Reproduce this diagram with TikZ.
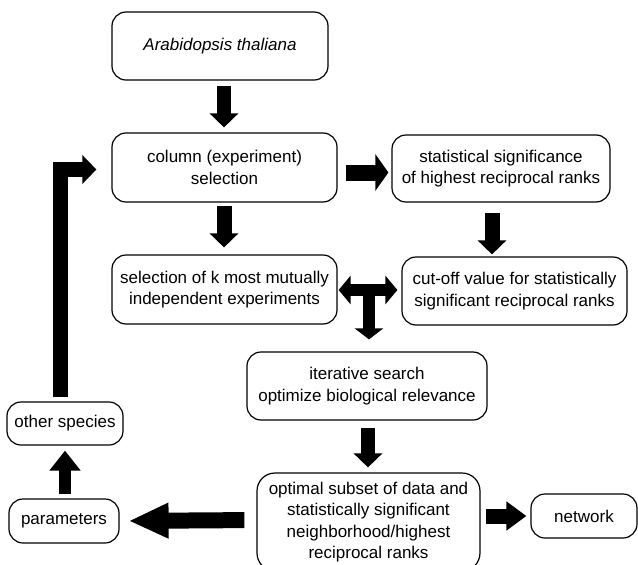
\documentclass[tikz,border=0pt]{standalone}
\usepackage{fontspec}
\setmainfont{Liberation Sans}
\usetikzlibrary{arrows.meta,calc}
\tikzset{
  box/.style={draw, line width=1.2pt, rounded corners=14pt, align=center, inner sep=0pt,
    font=\fontsize{17}{21.5}\selectfont},
  fat/.style={line width=#1, line join=miter},
  tipA/.style={-{Triangle[width=28pt,length=14pt]}},
}
\begin{document}
\begin{tikzpicture}[x=1pt,y=-1pt]
\useasboundingbox (0,0) rectangle (638,565);
\node[box, minimum width=216pt, minimum height=68pt] (A) at (220,46) {\itshape Arabidopsis thaliana};
\node[box, minimum width=225pt, minimum height=69pt] (B) at (224.5,167.5) {column (experiment)\\selection};
\node[box, minimum width=218pt, minimum height=67pt] (C) at (501,168.5) {statistical significance\\of highest reciprocal ranks};
\node[box, minimum width=225pt, minimum height=69pt] (D) at (224.5,289.5) {selection of k most mutually\\independent experiments};
\node[box, minimum width=225pt, minimum height=68pt] (E) at (514.5,291) {cut-off value for statistically\\significant reciprocal ranks};
\node[box, minimum width=240pt, minimum height=68pt] (F) at (367,386) {iterative search\\optimize biological relevance};
\node[box, minimum width=223pt, minimum height=98pt, rounded corners=18pt] (G) at (368.5,522) {optimal subset of data and\\statistically significant\\neighborhood/highest\\reciprocal ranks};
\node[box, minimum width=106pt, minimum height=44pt] (N) at (584,516) {network};
\node[box, minimum width=110pt, minimum height=44pt] (P) at (64,521) {parameters};
\node[box, minimum width=116pt, minimum height=43pt] (O) at (65,423.5) {other species};
\coordinate (ax) at (224,0);
\coordinate (cx) at (492,0);
\coordinate (tx) at (369,0);
\coordinate (ty) at (0,290);
\coordinate (lx) at (60,0);
\coordinate (fx) at (368,0);
% A -> B
\draw[fat=14pt, tipA, shorten <=5pt, shorten >=5pt] (A.south -| ax) -- (B.north -| ax);
% B -> C
\draw[fat=16pt, -{Triangle[width=36pt,length=13pt]}, shorten <=8pt, shorten >=3pt] ($(B.east)+(0,5)$) -- ($(C.west)+(0,4)$);
% B -> D
\draw[fat=15pt, tipA, shorten <=3pt, shorten >=7pt] (B.south -| ax) -- (D.north -| ax);
% C -> E
\draw[fat=15pt, tipA, shorten <=10pt, shorten >=2pt] (C.south -| cx) -- (E.north -| cx);
% D <-> E and down to F
\draw[fat=12pt, {Triangle[width=28pt,length=12pt]}-{Triangle[width=28pt,length=12pt]}, shorten <=1pt, shorten >=4pt] (D.east |- ty) -- (E.west |- ty);
\draw[fat=12pt, -{Triangle[width=28pt,length=11pt]}, shorten >=12pt] (tx |- ty) -- (F.north -| tx);
% F -> G
\draw[fat=14pt, tipA, shorten <=7pt, shorten >=5pt] (F.south -| fx) -- (G.north -| fx);
% G -> network
\draw[fat=15pt, -{Triangle[width=28pt,length=20pt]}, shorten <=5pt, shorten >=4pt] (G.east |- N.west) -- (N.west);
% G -> parameters
\draw[fat=16pt, -{Triangle[width=33pt,length=40pt]}, shorten <=12pt, shorten >=9pt] ($(G.west)+(0,-2)$) -- (P.east);
% parameters -> other species
\draw[fat=12pt, -{Triangle[width=30pt,length=20pt]}, shorten <=4pt, shorten >=5pt] (P.north -| O.north) -- (O.south);
% other species -> column selection (L)
\draw[fat=15pt, tipA, shorten <=4pt, shorten >=15pt] (O.north -| lx) |- ($(B.west)+(0,2)$);
\end{tikzpicture}
\end{document}
